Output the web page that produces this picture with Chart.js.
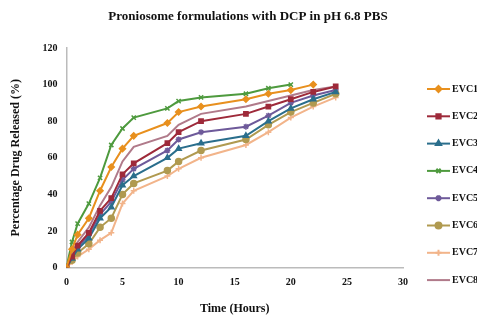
<!DOCTYPE html>
<html>
<head>
<meta charset="utf-8">
<script src="https://cdn.jsdelivr.net/npm/chart.js@4.4.0/dist/chart.umd.min.js"></script>
<style>
  html, body { margin: 0; padding: 0; background: #fff; }
  #wrap { width: 477px; height: 320px; }
</style>
</head>
<body>
<div id="wrap"><canvas id="chart" width="477" height="320"></canvas></div>
<script>
// 数据
const hours = [0, 0.5, 1, 2, 3, 4, 5, 6, 9, 10, 12, 16, 18, 20, 22, 24];
const EVC1 = [0, 10, 18, 27, 42, 55, 65, 72, 79, 85, 88, 92, 95, 97, 100, null];
const EVC2 = [0, 6, 12, 19, 31, 38, 51, 57, 68, 74, 80, 84, 88, 92, 96, 99];
const EVC3 = [0, 5, 10, 16, 27, 33, 45, 50, 60, 65, 68, 72, 80, 87, 92, 96];
const EVC4 = [0, 14, 24, 35, 49, 67, 76, 82, 87, 91, 93, 95, 98, 100, null, null];
const EVC5 = [0, 6, 11, 18, 29, 36, 48, 54, 64, 70, 74, 77, 83, 90, 94, 97];
const EVC6 = [0, 4, 8, 13, 22, 27, 40, 46, 53, 58, 64, 70, 78, 85, 90, 95];
const EVC7 = [0, 3, 6, 10, 15, 19, 35, 42, 50, 54, 60, 67, 74, 82, 88, 93];
const EVC8 = [0, 8, 14, 22, 34, 44, 58, 66, 72, 78, 84, 88, 91, 94, 97, 99];

const seriesNames = ['EVC1', 'EVC2', 'EVC3', 'EVC4', 'EVC5', 'EVC6', 'EVC7', 'EVC8'];
const seriesValues = [EVC1, EVC2, EVC3, EVC4, EVC5, EVC6, EVC7, EVC8];
const COLORS = ['#E8901E', '#9E2A3A', '#2A6E8C', '#4E9A3E', '#6E5A9A', '#B09A50', '#F2B48A', '#B07A8A'];
const MARKERS = ['rectRot', 'rect', 'triangle', 'crossRot', 'star', 'circle', 'cross', false];
const TITLE = 'Proniosome formulations with DCP in pH 6.8 PBS';
const SERIF = '"Liberation Serif", serif';

const datasets = seriesValues.map((vals, i) => ({
    label: seriesNames[i],
    data: hours.map((h, j) => ({ x: h, y: vals[j] })).filter(p => p.y !== null),
    borderColor: COLORS[i],
    backgroundColor: COLORS[i],
    borderWidth: 2,
    pointStyle: MARKERS[i],
    pointRadius: MARKERS[i] ? 3 : 0,
    pointBorderWidth: 1.5,
    tension: 0
}));

// 标题和右侧图例
const sideLegend = {
    id: 'sideLegend',
    afterDraw(chart) {
        const ctx = chart.ctx;
        ctx.save();
        ctx.fillStyle = '#111';
        ctx.font = 'bold 13px ' + SERIF;
        ctx.textAlign = 'center';
        ctx.textBaseline = 'middle';
        ctx.fillText(TITLE, 248, 17);

        chart.data.datasets.forEach((ds, i) => {
            const y = 89 + i * 27.3;
            ctx.strokeStyle = ds.borderColor;
            ctx.lineWidth = 2;
            ctx.beginPath();
            ctx.moveTo(427, y);
            ctx.lineTo(450, y);
            ctx.stroke();
            if (ds.pointStyle) {
                ctx.fillStyle = ds.borderColor;
                ctx.strokeStyle = ds.borderColor;
                Chart.helpers.drawPoint(ctx, {
                    pointStyle: ds.pointStyle, radius: 3, rotation: 0, borderWidth: 1.5
                }, 438.5, y);
            }
            ctx.fillStyle = '#111';
            ctx.font = 'bold 10px ' + SERIF;
            ctx.textAlign = 'left';
            ctx.textBaseline = 'middle';
            ctx.fillText(ds.label, 452, y);
        });
        ctx.restore();
    }
};

new Chart(document.getElementById('chart'), {
    type: 'line',
    data: { datasets },
    plugins: [sideLegend],
    options: {
        responsive: false,
        animation: false,
        layout: { padding: { left: 5, right: 74, top: 48, bottom: 4 } },
        plugins: {
            legend: { display: false },
            tooltip: { enabled: false },
            title: { display: false }
        },
        scales: {
            x: {
                type: 'linear',
                min: 0, max: 30,
                grid: { display: false, drawTicks: false },
                border: { display: true, color: '#BBBBBB', width: 1.5 },
                ticks: {
                    stepSize: 5, color: '#111', padding: 9,
                    font: { family: SERIF, size: 10, weight: 'bold' }
                },
                title: {
                    display: true, text: 'Time (Hours)', color: '#111',
                    font: { family: SERIF, size: 12, weight: 'bold' },
                    padding: { top: 4, bottom: 0 }
                }
            },
            y: {
                min: 0, max: 120,
                grid: { display: false, drawTicks: false },
                border: { display: true, color: '#BBBBBB', width: 1.5 },
                ticks: {
                    stepSize: 20, color: '#111', padding: 9,
                    font: { family: SERIF, size: 10, weight: 'bold' }
                },
                title: {
                    display: true, text: 'Percentage Drug Released (%)', color: '#111',
                    font: { family: SERIF, size: 12, weight: 'bold' },
                    padding: { bottom: 10 }
                }
            }
        }
    }
});
</script>
</body>
</html>
